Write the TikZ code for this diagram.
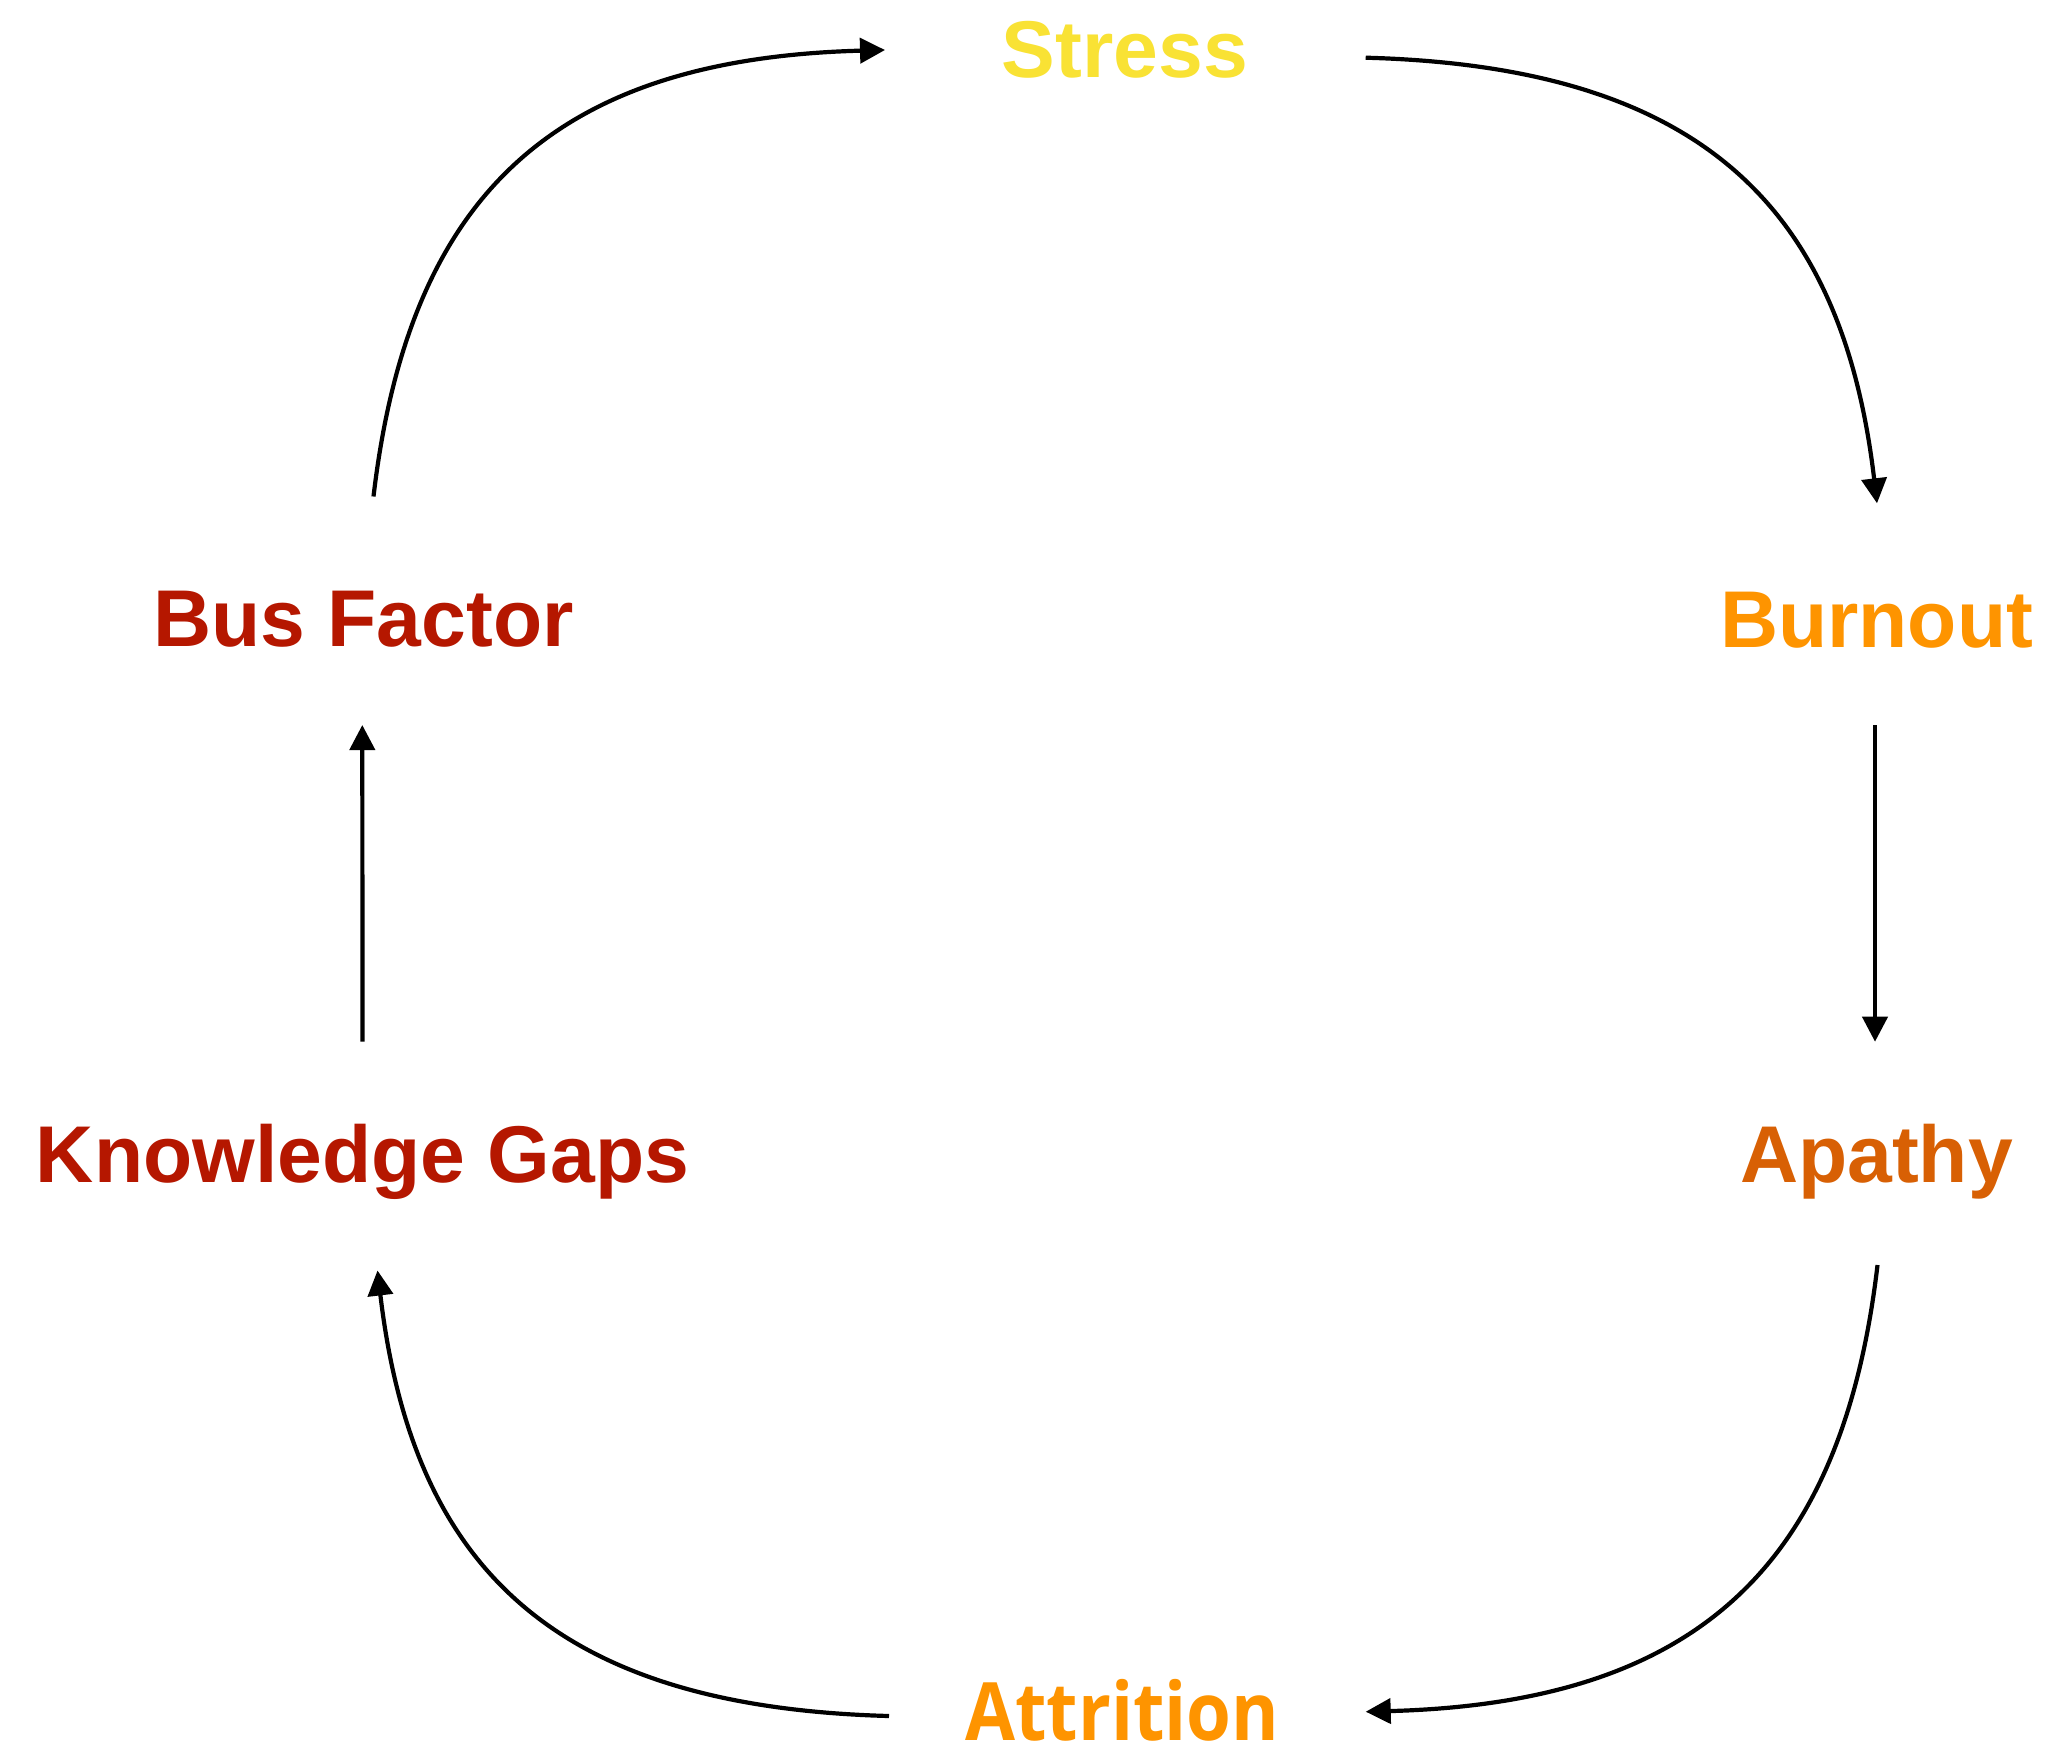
\documentclass[tikz,border=0pt]{standalone}
\usepackage{fontspec}
\setmainfont{Liberation Sans}
\newfontfamily\attrfont[FakeStretch=0.9]{Open Sans}
\usetikzlibrary{arrows.meta,calc}
\definecolor{cstress}{RGB}{249,226,52}
\definecolor{cburn}{RGB}{254,148,0}
\definecolor{capathy}{RGB}{216,96,4}
\definecolor{cred}{RGB}{181,23,0}
\definecolor{cattr}{RGB}{254,148,0}
\tikzset{
  lbl/.style={anchor=base, inner sep=0pt, font=\fontsize{80.5}{96}\selectfont\bfseries},
  flow/.style={line width=4.2pt, -{Triangle[length=25pt,width=25pt]}},
}
\begin{document}
\begin{tikzpicture}[x=1pt,y=-1pt]
\fill[white] (0,0) rectangle (2049,1748);
\useasboundingbox (0,0) rectangle (2049,1748);
% nodes
\node[lbl, text=cstress] (st) at (1125,77) {Stress};
\node[lbl, text=cburn] (bo) at (1876.5,647) {Burnout};
\node[lbl, text=capathy] (ap) at (1876.5,1182) {Apathy};
\node[lbl, text=cattr, text depth=0pt, font=\fontsize{80.5}{96}\attrfont\bfseries] (attr) at (1122.5,1740) {Attrition};
\node[lbl, text=cred] (kg) at (362.5,1182) {Knowledge Gaps};
\node[lbl, text=cred] (bf) at (363.5,646) {Bus Factor};
% connectors
\draw[flow] ($(bf.base)+(10,-149.5)$) .. controls +(35.3,-300.5) and +(-332,8.9) .. ($(st.base)+(-240,-27)$);
\draw[flow] ($(st.base)+(240.7,-19.3)$) .. controls +(331.8,8.9) and +(-35.3,-299.9) .. ($(bo.base)+(0.5,-143.7)$);
\draw[flow] ($(bo.base)+(-1.5,78)$) -- ($(ap.base)+(-1.5,-140.3)$);
\draw[flow] ($(ap.base)+(1,83)$) .. controls +(-35.3,300.6) and +(332.2,-8.9) .. ($(attr.base)+(243.2,-28.3)$);
\draw[flow] ($(attr.base)+(-233.5,-24)$) .. controls +(-332,-8.9) and +(35.3,299.8) .. ($(kg.base)+(15,88.5)$);
\draw[flow] ($(kg.base)+(0,-140.3)$) -- ($(bf.base)+(-1.2,79)$);
\end{tikzpicture}
\end{document}
